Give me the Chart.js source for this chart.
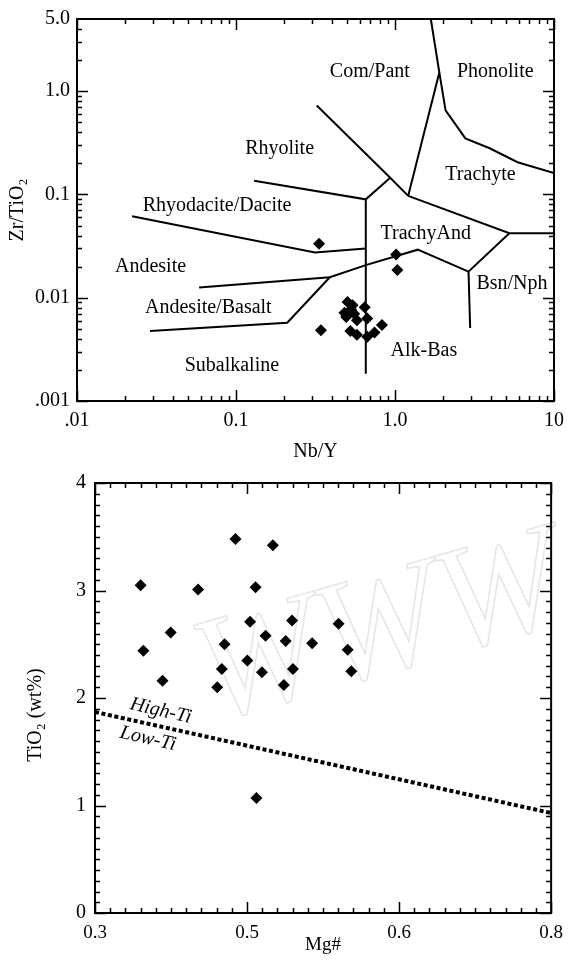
<!DOCTYPE html>
<html>
<head>
<meta charset="utf-8">
<script src="https://cdn.jsdelivr.net/npm/chart.js@4"></script>
<style>
  html, body { margin: 0; padding: 0; background: #fff; }
  #wrap { position: relative; width: 572px; height: 962px; }
  #top { position: absolute; left: 0; top: 0; }
  #bot { position: absolute; left: 0; top: 462px; }
</style>
</head>
<body>
<div id="wrap">
  <canvas id="top" width="572" height="470"></canvas>
  <canvas id="bot" width="572" height="500"></canvas>
</div>
<script>
// --- top diagram: Zr/TiO2 vs Nb/Y (log-log) ---
const nbY  = [0.333, 1.016, 1.035, 0.342, 0.503, 0.541, 0.645, 0.481, 0.493, 0.554, 0.576, 0.669, 0.828, 0.524, 0.576, 0.669, 0.743, 0.529];
const zrTi = [0.0333, 0.0262, 0.0186, 0.00484, 0.0091, 0.00845, 0.00809, 0.00714, 0.0065, 0.00698, 0.00604, 0.00631, 0.00545, 0.00477, 0.00437, 0.00418, 0.0046, 0.00769];

// field boundaries [Nb/Y, Zr/TiO2]
const bPhonolite = [[1.68, 5], [1.90, 1.52], [2.08, 0.652], [2.77, 0.349], [3.94, 0.280], [5.90, 0.205], [10, 0.161]];
const bComTrach  = [[1.90, 1.52], [1.21, 0.0968]];
const bRhyCom    = [[0.322, 0.726], [0.933, 0.145], [1.21, 0.0968]];
const bRhyRd     = [[0.130, 0.1355], [0.655, 0.0897], [0.933, 0.145]];
const bTrachyte  = [[1.21, 0.0968], [5.24, 0.0422], [10, 0.0422]];
const bBsnNph    = [[5.24, 0.0422], [2.90, 0.0179], [2.97, 0.0051]];
const bAlkVert   = [[0.655, 0.0897], [0.655, 0.00184]];
const bRdAnd     = [[0.0222, 0.0614], [0.314, 0.0274], [0.655, 0.0299]];
const bTrachyAnd = [[0.389, 0.0158], [0.655, 0.0207], [1.39, 0.0292], [2.90, 0.0179]];
const bAndAB     = [[0.0586, 0.01256], [0.389, 0.0158]];
const bABSub     = [[0.0288, 0.00477], [0.210, 0.00573], [0.389, 0.0158]];

const fieldNames = ['Com/Pant', 'Phonolite', 'Rhyolite', 'Trachyte', 'Rhyodacite/Dacite', 'TrachyAnd', 'Andesite', 'Andesite/Basalt', 'Bsn/Nph', 'Subalkaline', 'Alk-Bas'];
const fieldX = [0.695, 4.27, 0.188, 3.45, 0.076, 1.56, 0.029, 0.067, 5.44, 0.0942, 1.52];
const fieldY = [1.53, 1.53, 0.28, 0.155, 0.0782, 0.0413, 0.0200, 0.00793, 0.01374, 0.00221, 0.00308];

const nbTicks   = [0.01, 0.1, 1, 10];
const nbTickTxt = ['.01', '0.1', '1.0', '10'];
const zrTicks   = [0.001, 0.01, 0.1, 1, 5];
const zrTickTxt = ['.001', '0.01', '0.1', '1.0', '5.0'];

// --- bottom diagram: TiO2 vs Mg# ---
const mgNo = [0.350, 0.413, 0.454, 0.495, 0.476, 0.383, 0.353, 0.470, 0.442, 0.487, 0.509, 0.467, 0.439, 0.483, 0.374, 0.434, 0.507, 0.516, 0.567, 0.538, 0.577, 0.517, 0.581, 0.477];
const tiO2 = [3.05, 3.01, 3.48, 3.42, 3.03, 2.61, 2.44, 2.71, 2.50, 2.58, 2.53, 2.35, 2.27, 2.24, 2.16, 2.10, 2.12, 2.72, 2.69, 2.51, 2.45, 2.27, 2.25, 1.07];
const tiDivide = [[0.3, 1.87], [0.8, 0.93]];
const divideTxt = ['High-Ti', 'Low-Ti'];
const divideX = [0.372, 0.358];
const divideY = [1.88, 1.62];

const mgTickTxt = ['0.3', '0.5', '0.6', '0.8'];   // as printed (evenly spaced)
const tiTicks = [0, 1, 2, 3, 4];

const SERIF = '"Liberation Serif", "Times New Roman", serif';
const pts = (xs, ys) => xs.map((v, i) => ({ x: v, y: ys[i] }));
const line = a => ({
  type: 'line', data: a.map(p => ({ x: p[0], y: p[1] })),
  borderColor: '#000', borderWidth: 2, pointRadius: 0, fill: false, tension: 0
});

function logMinors(lo, hi) {
  const out = [];
  for (let d = lo; d < hi; d *= 10)
    for (let k = 2; k <= 9; k++) if (k * d < hi) out.push(k * d);
  return out;
}

// inward tick marks on all four sides + frame
const frameTicks = {
  id: 'frameTicks',
  afterDatasetsDraw(chart, args, o) {
    const { ctx, chartArea: a, scales: { x, y } } = chart;
    ctx.save();
    ctx.strokeStyle = '#000';
    ctx.lineWidth = 1.5;
    ctx.beginPath();
    const xt = (v, len) => {
      const p = Math.round(x.getPixelForValue(v)) + 0.5;
      ctx.moveTo(p, a.bottom); ctx.lineTo(p, a.bottom - len);
      ctx.moveTo(p, a.top); ctx.lineTo(p, a.top + len);
    };
    const yt = (v, len) => {
      const p = Math.round(y.getPixelForValue(v)) + 0.5;
      ctx.moveTo(a.left, p); ctx.lineTo(a.left + len, p);
      ctx.moveTo(a.right, p); ctx.lineTo(a.right - len, p);
    };
    o.xMinor.forEach(v => xt(v, 5));
    o.xMajor.forEach(v => xt(v, 11));
    o.yMinor.forEach(v => yt(v, 5));
    o.yMajor.forEach(v => yt(v, 11));
    ctx.stroke();
    ctx.lineWidth = 2;
    ctx.strokeRect(a.left, a.top, a.right - a.left, a.bottom - a.top);
    ctx.restore();
  }
};

// text labels placed in data coordinates
const fieldText = {
  id: 'fieldText',
  afterDatasetsDraw(chart, args, o) {
    const { ctx, scales: { x, y } } = chart;
    ctx.save();
    ctx.fillStyle = '#000';
    ctx.textAlign = 'center';
    ctx.textBaseline = 'middle';
    ctx.font = o.font;
    o.names.forEach((t, i) => {
      ctx.save();
      ctx.translate(x.getPixelForValue(o.xs[i]), y.getPixelForValue(o.ys[i]));
      ctx.rotate((o.angle || 0) * Math.PI / 180);
      ctx.fillText(t, 0, 0);
      ctx.restore();
    });
    if (o.yTitle) {
      ctx.font = o.yTitle.font;
      ctx.translate(o.yTitle.x, o.yTitle.y);
      ctx.rotate(-Math.PI / 2);
      ctx.fillText(o.yTitle.text, 0, 0);
    }
    ctx.restore();
  }
};

// faint "WWW" watermark behind the bottom scatter
const watermark = {
  id: 'watermark',
  beforeDatasetsDraw(chart) {
    const { ctx, chartArea: a } = chart;
    ctx.save();
    ctx.translate(a.left + 285, a.top + 150);
    ctx.rotate(-16 * Math.PI / 180);
    ctx.font = 'italic 150px ' + SERIF;
    ctx.textAlign = 'center';
    ctx.textBaseline = 'middle';
    ctx.strokeStyle = '#e6e6e6';
    ctx.lineWidth = 1.5;
    ctx.strokeText('WWW', 0, 0);
    ctx.restore();
  }
};

const tickFont = s => ({ family: SERIF, size: s });

new Chart(document.getElementById('top'), {
  type: 'scatter',
  data: {
    datasets: [
      line(bPhonolite), line(bComTrach), line(bRhyCom), line(bRhyRd), line(bTrachyte),
      line(bBsnNph), line(bAlkVert), line(bRdAnd), line(bTrachyAnd), line(bAndAB), line(bABSub),
      { data: pts(nbY, zrTi), pointStyle: 'rectRot', pointRadius: 6, backgroundColor: '#000', borderWidth: 0 }
    ]
  },
  options: {
    responsive: false,
    animation: false,
    events: [],
    layout: { padding: { left: 0, top: 14, right: 8, bottom: 0 } },
    plugins: {
      legend: { display: false },
      tooltip: { enabled: false },
      frameTicks: {
        xMajor: nbTicks, xMinor: logMinors(0.01, 10),
        yMajor: [0.001, 0.01, 0.1, 1], yMinor: logMinors(0.001, 5)
      },
      fieldText: { names: fieldNames, xs: fieldX, ys: fieldY, font: '20px ' + SERIF }
    },
    scales: {
      x: {
        type: 'logarithmic', min: 0.01, max: 10,
        grid: { display: false, drawTicks: false }, border: { display: false },
        afterBuildTicks: s => { s.ticks = nbTicks.map(v => ({ value: v })); },
        afterFit: s => { s.height = 69; },
        ticks: { autoSkip: false, maxRotation: 0, padding: 8, color: '#000', font: tickFont(20),
                 callback: (v, i) => nbTickTxt[i] },
        title: { display: true, text: 'Nb/Y', color: '#000', font: tickFont(20), padding: { bottom: 6 } }
      },
      y: {
        type: 'logarithmic', min: 0.001, max: 5,
        grid: { display: false, drawTicks: false }, border: { display: false },
        afterBuildTicks: s => { s.ticks = zrTicks.map(v => ({ value: v })); },
        afterFit: s => { s.width = 77; },
        ticks: { autoSkip: false, padding: 7, color: '#000', font: tickFont(20),
                 callback: (v, i) => zrTickTxt[i] },
        title: { display: true, text: 'Zr/TiO₂', color: '#000', font: tickFont(20), padding: { top: 6 } }
      }
    }
  },
  plugins: [frameTicks, fieldText]
});

const mgStep = 0.5 / (mgTickTxt.length - 1);
const mgPos = mgTickTxt.map((t, i) => 0.3 + i * mgStep);
const mgMinor = [], tiMinor = [];
for (let k = 0; k <= 30; k++) mgMinor.push(0.3 + k * 0.5 / 30);
for (let k = 0; k <= 40; k++) tiMinor.push(k / 10);

new Chart(document.getElementById('bot'), {
  type: 'scatter',
  data: {
    datasets: [
      { type: 'line', data: tiDivide.map(p => ({ x: p[0], y: p[1] })), borderColor: '#000',
        borderWidth: 4, borderDash: [4, 2.6], borderCapStyle: 'butt', pointRadius: 0, fill: false },
      { data: pts(mgNo, tiO2), pointStyle: 'rectRot', pointRadius: 6, backgroundColor: '#000', borderWidth: 0 }
    ]
  },
  options: {
    responsive: false,
    animation: false,
    events: [],
    layout: { padding: { left: 0, top: 18, right: 19, bottom: 0 } },
    plugins: {
      legend: { display: false },
      tooltip: { enabled: false },
      frameTicks: { xMajor: mgPos, xMinor: mgMinor, yMajor: tiTicks, yMinor: tiMinor },
      fieldText: {
        names: divideTxt, xs: divideX, ys: divideY, angle: 13, font: 'italic 20px ' + SERIF,
        yTitle: { text: 'TiO₂ (wt%)', x: 36, y: 253, font: '20px ' + SERIF }
      }
    },
    scales: {
      x: {
        type: 'linear', min: 0.3, max: 0.8,
        grid: { display: false, drawTicks: false }, border: { display: false },
        afterBuildTicks: s => { s.ticks = mgPos.map(v => ({ value: v })); },
        afterFit: s => { s.height = 49; },
        ticks: { autoSkip: false, maxRotation: 0, padding: 9, color: '#000', font: tickFont(19),
                 callback: (v, i) => mgTickTxt[i] },
        title: { display: true, text: 'Mg#', color: '#000', font: tickFont(19), padding: { bottom: 6 } }
      },
      y: {
        type: 'linear', min: 0, max: 4,
        grid: { display: false, drawTicks: false }, border: { display: false },
        afterBuildTicks: s => { s.ticks = tiTicks.map(v => ({ value: v })); },
        afterFit: s => { s.width = 95; },
        ticks: { autoSkip: false, padding: 9, color: '#000', font: tickFont(20),
                 callback: (v, i) => String(tiTicks[i]) }
      }
    }
  },
  plugins: [watermark, frameTicks, fieldText]
});
</script>
</body>
</html>
